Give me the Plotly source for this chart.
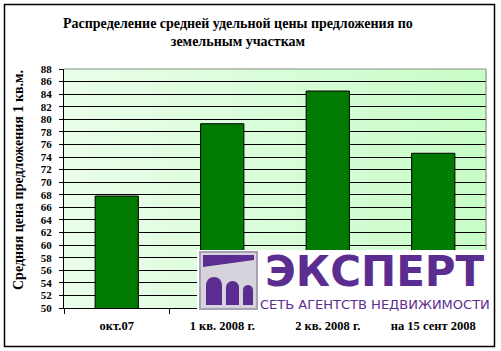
import math
import plotly.graph_objects as go

categories = ["окт.07", "1 кв. 2008 г.", "2 кв. 2008 г.", "на 15 сент 2008"]
values = [67.8, 79.3, 84.5, 74.6]
title_lines = ["Распределение средней удельной цены предложения по", "земельным участкам"]
y_title = "Средняя цена предложения 1 кв.м."
y_range = [50, 88]
y_step = 2

W, H = 501, 351
L, R, T, B = 64, 15, 69, 43
PW, PH = W - L - R, H - T - B


def px(x):
    return (x - L) / PW


def py(y):
    return (H - B - y) / PH


SERIF = "Liberation Serif, Times New Roman, serif"
PURPLE = "#5b2d90"

fig = go.Figure()
fig.add_trace(go.Bar(
    x=categories, y=values, width=0.41,
    marker=dict(color="#007a00", line=dict(color="black", width=1)),
    hoverinfo="skip",
))

shapes = []
# gradient background of plot area
n = 60
c0 = (234, 253, 234)
c1 = (200, 253, 200)
for i in range(n):
    t = i / (n - 1)
    col = tuple(round(c0[k] + (c1[k] - c0[k]) * t) for k in range(3))
    shapes.append(dict(type="rect", xref="paper", yref="paper", x0=i / n, x1=(i + 1) / n + 0.002,
                       y0=0, y1=1, fillcolor="rgb(%d,%d,%d)" % col, line=dict(width=0), layer="below"))
# plot area frame (top/right gray)
shapes.append(dict(type="line", xref="paper", yref="paper", x0=0, x1=1, y0=1, y1=1,
                   line=dict(color="#7f8f7f", width=1), layer="above"))
shapes.append(dict(type="line", xref="paper", yref="paper", x0=1, x1=1, y0=0, y1=1,
                   line=dict(color="#7f8f7f", width=1), layer="above"))
# outer border
shapes.append(dict(type="rect", xref="paper", yref="paper", x0=px(4.5), x1=px(494.5), y0=py(346.5), y1=py(4.5),
                   line=dict(color="black", width=1.5), fillcolor="rgba(0,0,0,0)", layer="above"))

# logo: white panel
shapes.append(dict(type="rect", xref="paper", yref="paper", x0=px(197), x1=px(490), y0=py(318), y1=py(250),
                   fillcolor="white", line=dict(width=0), layer="above"))
# icon frame
shapes.append(dict(type="rect", xref="paper", yref="paper", x0=px(200), x1=px(257), y0=py(309), y1=py(252),
                   fillcolor="#d6d3dc", line=dict(color="#a8a3b4", width=2), layer="above"))


def path_px(points):
    return "M " + " L ".join("%f,%f" % (px(a), py(b)) for a, b in points) + " Z"


# top slanted purple band
shapes.append(dict(type="path", xref="paper", yref="paper",
                   path=path_px([(203, 255), (254, 255), (254, 260), (203, 267)]),
                   fillcolor=PURPLE, line=dict(width=0), layer="above"))


def arch(x0, x1, ytop, ybot):
    r = (x1 - x0) / 2
    cx = (x0 + x1) / 2
    pts = [(x0, ybot), (x0, ytop + r)]
    for k in range(1, 12):
        a = math.pi - math.pi * k / 12
        pts.append((cx + r * math.cos(a), ytop + r - r * math.sin(a)))
    pts += [(x1, ytop + r), (x1, ybot)]
    return path_px(pts)


for (a0, a1, yt) in [(206, 222, 277), (226, 239, 281), (243, 253, 285)]:
    shapes.append(dict(type="path", xref="paper", yref="paper", path=arch(a0, a1, yt, 305),
                       fillcolor=PURPLE, line=dict(width=0), layer="above"))

annotations = [
    dict(text="<b>%s</b><br><b>%s</b>" % tuple(title_lines), xref="paper", yref="paper",
         x=px(238), y=py(32), xanchor="center", yanchor="middle", showarrow=False,
         font=dict(family=SERIF, size=14, color="black"), align="center"),
    dict(text="<b>%s</b>" % y_title, xref="paper", yref="paper", x=px(18), y=py(180),
         xanchor="center", yanchor="middle", textangle=-90, showarrow=False,
         font=dict(family=SERIF, size=14, color="black")),
    dict(text="<b>ЭКСПЕРТ</b>", xref="paper", yref="paper", x=px(375), y=py(271),
         xanchor="center", yanchor="middle", showarrow=False,
         font=dict(family="DejaVu Sans", size=42, color=PURPLE)),
    dict(text="СЕТЬ АГЕНТСТВ НЕДВИЖИМОСТИ", xref="paper", yref="paper", x=px(375), y=py(304),
         xanchor="center", yanchor="middle", showarrow=False,
         font=dict(family="DejaVu Sans", size=13, color=PURPLE)),
]

fig.update_layout(
    width=W, height=H, margin=dict(l=L, r=R, t=T, b=B, pad=0),
    paper_bgcolor="white", plot_bgcolor="rgba(0,0,0,0)",
    showlegend=False, bargap=0.59,
    shapes=shapes, annotations=annotations,
    xaxis=dict(showgrid=False, showline=True, linecolor="black", linewidth=1,
               ticks="outside", ticklen=5, tickcolor="black", tickson="boundaries",
               tickfont=dict(family=SERIF, size=12.5, color="black"), ticklabelstandoff=6),
    yaxis=dict(range=y_range, dtick=y_step, tick0=y_range[0], showgrid=True, gridcolor="black", gridwidth=1,
               showline=True, linecolor="black", linewidth=1, ticks="outside", ticklen=4,
               tickcolor="black", zeroline=False,
               tickfont=dict(family=SERIF, size=11, color="black"), ticklabelstandoff=5),
)
fig.update_xaxes(tickvals=categories, ticktext=["<b>%s</b>" % c for c in categories])
fig.update_yaxes(tickvals=list(range(y_range[0], y_range[1] + 1, y_step)),
                 ticktext=["<b>%d</b>" % v for v in range(y_range[0], y_range[1] + 1, y_step)])

fig.write_html("out.html")
